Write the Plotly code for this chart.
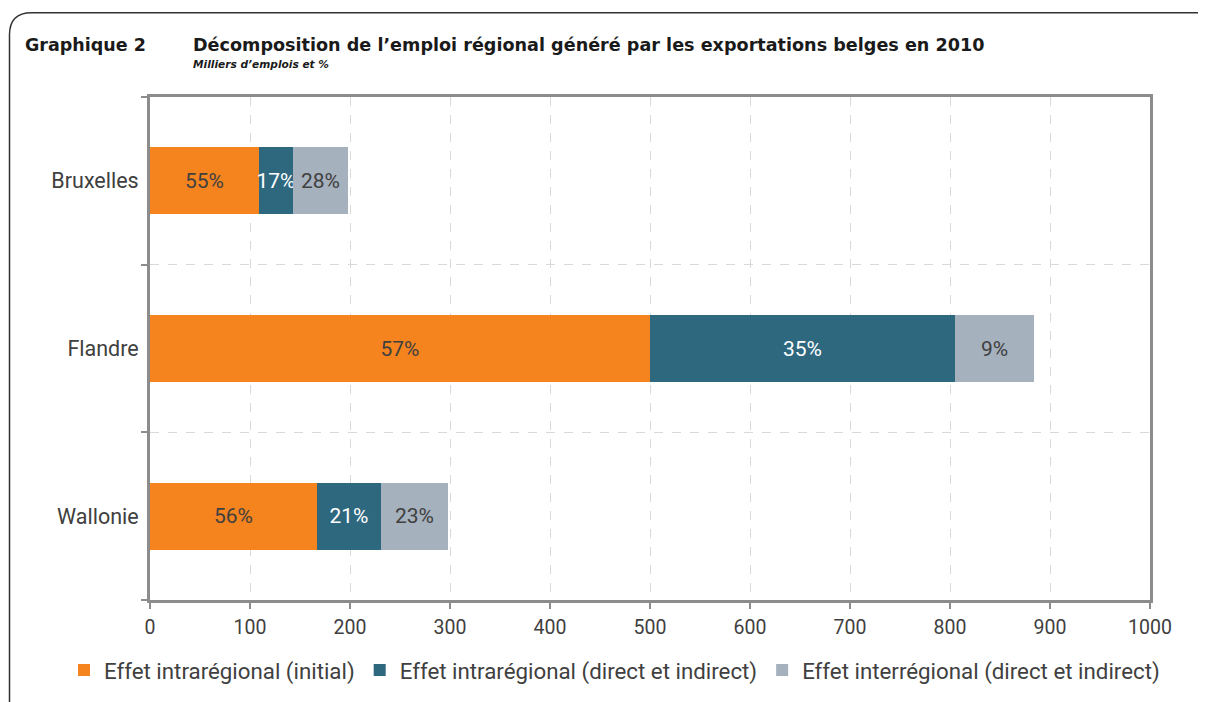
import plotly.graph_objects as go

regions = ["Bruxelles", "Flandre", "Wallonie"]
initial = [109, 500, 167]
intra = [34, 305, 64]
inter = [55, 79, 67]
lbl_initial = ["55%", "57%", "56%"]
lbl_intra = ["17%", "35%", "21%"]
lbl_inter = ["28%", "9%", "23%"]
series_names = ["Effet intrarégional (initial)",
                "Effet intrarégional (direct et indirect)",
                "Effet interrégional (direct et indirect)"]
x_ticks = [0, 100, 200, 300, 400, 500, 600, 700, 800, 900, 1000]

colors = ["#F5841F", "#2E687F", "#A6B1BE"]
label_colors = ["#404040", "#FFFFFF", "#404040"]
FONT = "Roboto"
TXT = "#404040"

fig = go.Figure()
for vals, lbls, name, col, lc in zip([initial, intra, inter],
                                     [lbl_initial, lbl_intra, lbl_inter],
                                     series_names, colors, label_colors):
    fig.add_trace(go.Bar(
        y=regions, x=vals, name=name, orientation="h",
        marker=dict(color=col, line=dict(width=0)),
        text=lbls, textposition="inside", insidetextanchor="middle",
        textangle=0, constraintext="none",
        textfont=dict(color=lc, size=21, family=FONT),
        width=0.4, hoverinfo="x+name",
    ))

OFF = 8  # page body margin
W, H = 1206 - OFF, 702 - OFF
L, T = 150 - OFF, 97 - OFF
R = W - (1150 - OFF)
B = H - (601 - OFF)
pw, ph = W - L - R, H - T - B


def px(x):
    return (x - OFF - L) / pw


def py(y):
    return (H - B - (y - OFF)) / ph


x0, yt = px(9.5), py(12.5)
yb, xr = py(730), px(1240)
rx, ry = 22 / pw, 22 / ph
frame = f"M {x0},{yb} L {x0},{yt - ry} Q {x0},{yt} {x0 + rx},{yt} L {xr},{yt}"

fig.update_layout(
    width=W, height=H,
    margin=dict(l=L, r=R, t=T, b=B, pad=0),
    barmode="stack",
    plot_bgcolor="white", paper_bgcolor="white",
    font=dict(family=FONT, size=20, color=TXT),
    uniformtext=dict(minsize=21, mode="show"),
    showlegend=True,
    legend=dict(orientation="h", x=px(64), xanchor="left",
                y=py(670), yanchor="middle",
                font=dict(size=22.3, family=FONT, color=TXT),
                traceorder="normal", itemwidth=30, tracegroupgap=0),
    xaxis=dict(range=[0, 1000], tickvals=x_ticks, ticks="outside", ticklen=6,
               tickcolor="#8c8c8c", tickwidth=2, ticklabelstandoff=2,
               showgrid=True, gridcolor="#d9d9d9", griddash="dash", gridwidth=1,
               showline=True, linecolor="#8c8c8c", linewidth=3, mirror=True,
               zeroline=False, tickfont=dict(size=19.5, color=TXT)),
    yaxis=dict(type="category", categoryorder="array",
               categoryarray=regions[::-1], range=[-0.5, 2.5],
               tickson="boundaries", ticks="outside", ticklen=6,
               tickcolor="#8c8c8c", tickwidth=2, ticklabelstandoff=4,
               showgrid=True, gridcolor="#d9d9d9", griddash="dash", gridwidth=1,
               showline=True, linecolor="#8c8c8c", linewidth=3, mirror=True,
               zeroline=False, tickfont=dict(size=21.5, color=TXT)),
    shapes=[dict(type="path", path=frame, xref="paper", yref="paper",
                 line=dict(color="#333333", width=1.5), layer="above")],
    annotations=[
        dict(text="<b>Graphique 2</b>", xref="paper", yref="paper",
             x=px(23), y=py(45), xanchor="left", yanchor="middle",
             showarrow=False, font=dict(family="DejaVu Sans", size=17.5, color="#1a1a1a")),
        dict(text="<b>Décomposition de l’emploi régional généré par les exportations belges en 2010</b>",
             xref="paper", yref="paper",
             x=px(191), y=py(45), xanchor="left", yanchor="middle",
             showarrow=False, font=dict(family="DejaVu Sans", size=17.6, color="#1a1a1a")),
        dict(text="<b><i>Milliers d’emplois et %</i></b>", xref="paper", yref="paper",
             x=px(191), y=py(64), xanchor="left", yanchor="middle",
             showarrow=False, font=dict(family="DejaVu Sans", size=10.6, color="#1a1a1a")),
    ],
)

fig.write_html("out.html")
